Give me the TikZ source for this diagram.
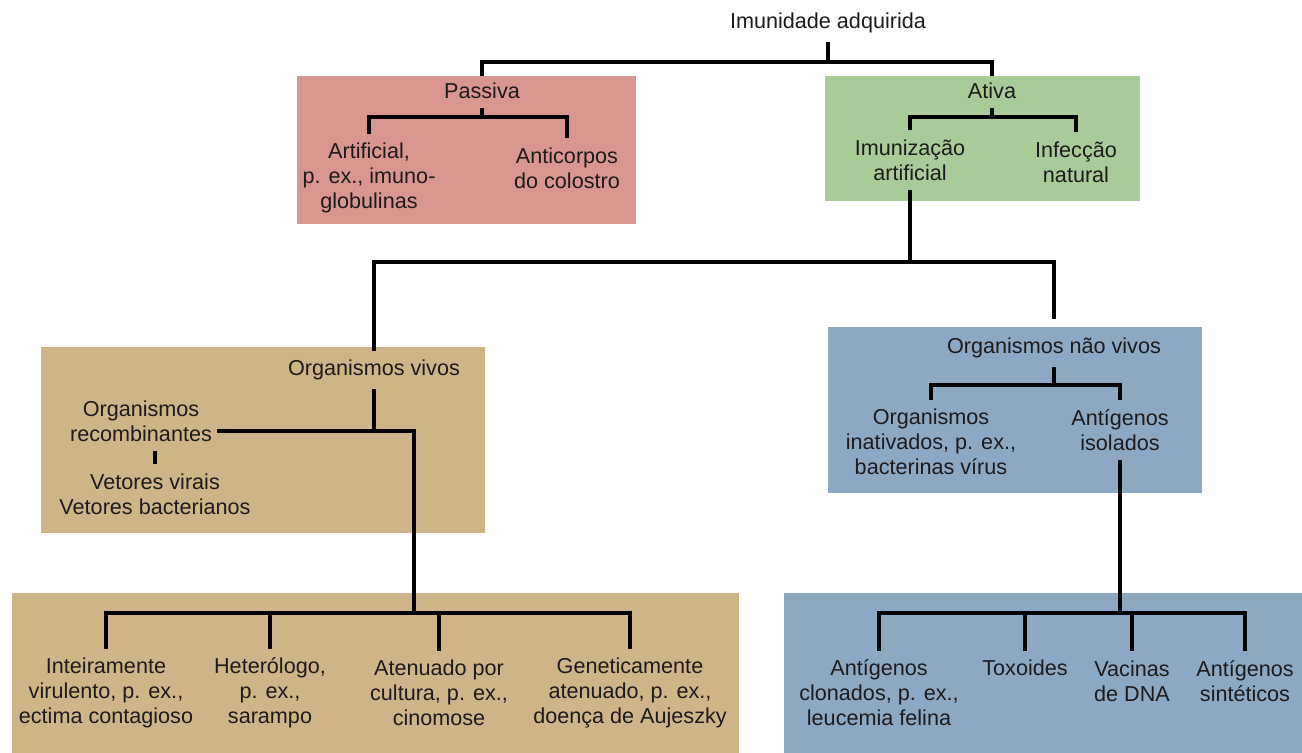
\documentclass[tikz,border=0pt]{standalone}
\usepackage{fontspec}
\setmainfont{Liberation Sans}
\usetikzlibrary{fit}
\definecolor{pinkbg}{RGB}{217,150,145}
\definecolor{greenbg}{RGB}{169,203,152}
\definecolor{tanbg}{RGB}{206,181,135}
\definecolor{bluebg}{RGB}{141,168,195}
\definecolor{txt}{RGB}{30,27,28}
\tikzset{
  lbl/.style={align=center, inner xsep=3pt, inner ysep=5pt, text=txt, font=\fontsize{12.3}{14.2}\selectfont},
  bgbox/.style={inner sep=0pt, draw=none},
  tree/.style={line width=2.1pt, draw=black}
}
\begin{document}
\begin{tikzpicture}[x=0.02cm, y=-0.02cm]
      \useasboundingbox (0,0) rectangle (1302,753);
      % coloured boxes
      \node[bgbox, fill=pinkbg, fit={(297,76) (636,224)}] (pbox) {};
      \node[bgbox, fill=greenbg, fit={(825,76) (1140,201)}] (abox) {};
      \node[bgbox, fill=tanbg, fit={(41,347) (485,533)}] (vbox) {};
      \node[bgbox, fill=bluebg, fit={(828,327) (1202,493)}] (nbox) {};
      \node[bgbox, fill=tanbg, fit={(12,593) (739,753)}] (tbox) {};
      \node[bgbox, fill=bluebg, fit={(784,593) (1302,753)}] (bbox) {};
      % labels
      \node[lbl] (root) at (828,23) {Imunidade adquirida};
      \node[lbl] (pas) at (482,91) {Passiva};
      \node[lbl] (ati) at (992,91) {Ativa};
      \node[lbl] (art) at (369,178) {Artificial,\\p. ex., imuno-\\globulinas};
      \node[lbl] (col) at (567,168) {Anticorpos\\do colostro};
      \node[lbl] (imu) at (910,160) {Imunização\\artificial};
      \node[lbl] (inf) at (1076,162) {Infecção\\natural};
      \node[lbl] (viv) at (374,370) {Organismos vivos};
      \node[lbl] (rec) at (141,421) {Organismos\\recombinantes};
      \node[lbl] (vet) at (155,494) {Vetores virais\\Vetores bacterianos};
      \node[lbl] (nv) at (1054,348) {Organismos não vivos};
      \node[lbl] (ina) at (931,442) {Organismos\\inativados, p. ex.,\\bacterinas vírus};
      \node[lbl] (iso) at (1120,430) {Antígenos\\isolados};
      \node[lbl] (int) at (106,693) {Inteiramente\\virulento, p. ex.,\\ectima contagioso};
      \node[lbl] (het) at (270,693) {Heterólogo,\\p. ex.,\\sarampo};
      \node[lbl] (ate) at (439,693) {Atenuado por\\cultura, p. ex.,\\cinomose};
      \node[lbl] (gen) at (630,693) {Geneticamente\\atenuado, p. ex.,\\doença de Aujeszky};
      \node[lbl] (clo) at (879,693) {Antígenos\\clonados, p. ex.,\\leucemia felina};
      \node[lbl] (tox) at (1025,668) {Toxoides};
      \node[lbl] (vac) at (1132,681) {Vacinas\\de DNA};
      \node[lbl] (sin) at (1245,681) {Antígenos\\sintéticos};
      % bar levels and free ends
      \coordinate (b0) at (0,62);
      \coordinate (b1) at (0,117);
      \coordinate (b2) at (0,262);
      \coordinate (b4) at (0,385);
      \coordinate (b6) at (0,613);
      \coordinate (rc) at (414,431);
      \coordinate (pastop) at (pas |- pbox.north);
      \coordinate (atitop) at (ati |- abox.north);
      \coordinate (nvtop) at (1054,319);
      \foreach \p/\b/\c in {root/b0/pastop, root/b0/atitop, pas/b1/art, pas/b1/col, ati/b1/imu, ati/b1/inf,
                            imu/b2/viv, imu/b2/nvtop, nv/b4/ina, nv/b4/iso, iso/b6/clo, iso/b6/tox, iso/b6/vac, iso/b6/sin}
        \draw[tree] (\p) -- (\p |- \b) -| (\c);
      \draw[tree] (viv) -- (viv |- rc);
      \draw[tree] (rec.east |- rc) -- (rc) -- (rc |- b6);
      \foreach \c in {int, het, ate, gen}
        \draw[tree] (rc |- b6) -| (\c);
      \draw[tree] (rec.south -| vet) -- (vet);
    \end{tikzpicture}
\end{document}
